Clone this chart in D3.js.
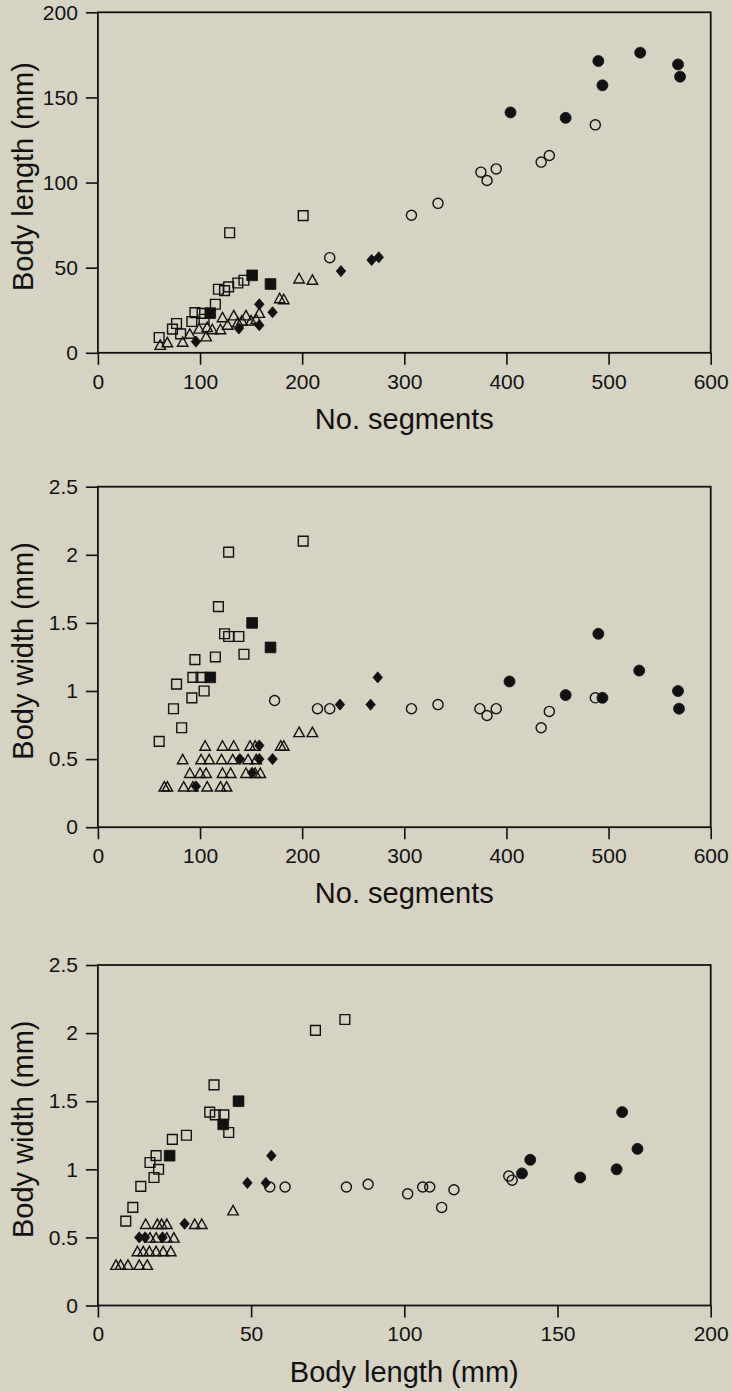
<!DOCTYPE html>
<html>
<head>
<meta charset="utf-8">
<script src="https://cdn.jsdelivr.net/npm/d3@7"></script>
<style>
  body { margin: 0; background: #d6d3c3; }
  svg { display: block; }
  text { font-family: "Liberation Sans", Arial, Helvetica, sans-serif; fill: #111; }
</style>
</head>
<body>
<div class="grafico"></div>
<script>
// ---- datos ----

// panel 1: No. segments vs Body length (mm)
const p1OpenSquare = [[60,9],[73,13.9],[77,17.2],[81,11.1],[92,18.4],[95,23.6],[102,23.2],[104,19.7],[115,28.5],[118,37.3],[124,36.5],[128,38.7],[129,70.5],[137,41],[143,42.6],[201,80.6]];
const p1FilledSquare = [[110,23.3],[151,45.5],[169,40.4]];
const p1Triangle = [[61,4.8],[68,6.3],[83,6.6],[90,11.3],[99,14.3],[106,9.8],[107,15.2],[112,14],[120,14],[122,21],[127,16.6],[133,22.1],[137,18],[141,19.1],[145,22.1],[150,19.1],[155,20],[158,23.6],[178,32.2],[182,31.6],[197,43.8],[210,43]];
const p1Diamond = [[96,6.6],[138,14.3],[158,16.2],[158,28.5],[171,23.8],[238,48],[268,54.5],[275,56.1]];
const p1OpenCircle = [[227,55.9],[307,80.8],[333,87.8],[375,106.1],[381,101.2],[390,108],[434,112],[442,115.9],[487,133.9]];
const p1FilledCircle = [[404,141.2],[458,138],[490,171.4],[494,157.1],[531,176.3],[568,169.4],[570,162.2]];

// panel 2: No. segments vs Body width (mm)
const p2OpenSquare = [[60,0.63],[74,0.87],[77,1.05],[82,0.73],[92,0.95],[93,1.1],[95,1.23],[101,1.1],[104,1.0],[115,1.25],[118,1.62],[124,1.42],[128,1.4],[128,2.02],[138,1.4],[143,1.27],[201,2.1]];
const p2FilledSquare = [[110,1.1],[151,1.5],[169,1.32]];
const p2Triangle = [[65,0.3],[68,0.3],[84,0.3],[93,0.3],[107,0.3],[120,0.3],[126,0.3],
  [90,0.4],[100,0.4],[106,0.4],[122,0.4],[130,0.4],[145,0.4],[154,0.4],[159,0.4],
  [83,0.5],[101,0.5],[109,0.5],[121,0.5],[132,0.5],[147,0.5],[155,0.5],
  [105,0.6],[122,0.6],[133,0.6],[149,0.6],[154,0.6],[179,0.6],[182,0.6],
  [197,0.7],[210,0.7]];
const p2Diamond = [[96,0.3],[139,0.5],[151,0.4],[158,0.6],[158,0.5],[171,0.5],[237,0.9],[267,0.9],[274,1.1]];
const p2OpenCircle = [[173,0.93],[215,0.87],[227,0.87],[307,0.87],[333,0.9],[374,0.87],[381,0.82],[390,0.87],[434,0.73],[442,0.85],[487,0.95]];
const p2FilledCircle = [[403,1.07],[458,0.97],[490,1.42],[494,0.95],[530,1.15],[568,1.0],[569,0.87]];

// panel 3: Body length (mm) vs Body width (mm)
const p3OpenSquare = [[9.1,0.62],[11.4,0.72],[14,0.875],[17,1.05],[18.3,0.94],[19,1.1],[19.8,1.0],[24.3,1.22],[28.9,1.25],[36.5,1.42],[37.9,1.62],[38.3,1.4],[41.1,1.4],[42.7,1.27],[71,2.02],[80.6,2.1]];
const p3FilledSquare = [[23.4,1.1],[40.9,1.33],[45.9,1.5]];
const p3Triangle = [[5.9,0.3],[7.4,0.3],[9.8,0.3],[13.5,0.3],[16.1,0.3],
  [12.9,0.4],[14.8,0.4],[16.8,0.4],[19,0.4],[21.3,0.4],[23.8,0.4],
  [17,0.5],[19,0.5],[22.5,0.5],[24.8,0.5],
  [15.6,0.6],[19.4,0.6],[20.8,0.6],[22.5,0.6],[31.6,0.6],[33.9,0.6],
  [44.1,0.7]];
const p3Diamond = [[13.5,0.5],[15.4,0.5],[21.1,0.5],[28.3,0.6],[48.8,0.9],[54.8,0.9],[56.6,1.1]];
const p3OpenCircle = [[56.1,0.87],[61.1,0.87],[81.1,0.87],[88.2,0.89],[101.1,0.82],[106,0.87],[108.3,0.87],[112.2,0.72],[116.2,0.85],[134.1,0.95],[135.2,0.92]];
const p3FilledCircle = [[138.4,0.97],[141.1,1.07],[157.4,0.94],[169.3,1.0],[171.1,1.42],[176.1,1.15]];

// ticks y titulos
const segTicks = [0, 100, 200, 300, 400, 500, 600];
const lengthTicks = [0, 50, 100, 150, 200];
const widthTicks = [0, 0.5, 1, 1.5, 2, 2.5];
const titles = ["No. segments", "Body length (mm)", "Body width (mm)"];

// ---- simbolos propios ----
var triangleType = {
  draw: function(ctx, size) {
    var w = Math.sqrt(size) / 2, h = w * 0.9;
    ctx.moveTo(0, -h); ctx.lineTo(w, h); ctx.lineTo(-w, h); ctx.closePath();
  }
};
var diamondType = {
  draw: function(ctx, size) {
    var h = Math.sqrt(size) / 2, w = h * 0.85;
    ctx.moveTo(0, -h); ctx.lineTo(w, 0); ctx.lineTo(0, h); ctx.lineTo(-w, 0); ctx.closePath();
  }
};
var squareType = {
  draw: function(ctx, size) {
    var s = Math.sqrt(size) / 2;
    ctx.rect(-s, -s, 2 * s, 2 * s);
  }
};

var width = 732, height = 1391;
var left = 97.9, right = 710.7, plotH = 340.5;

var svg = d3.select(".grafico")
  .append("svg")
  .attr("width", width)
  .attr("height", height);

svg.append("rect").attr("width", width).attr("height", height).attr("fill", "#d6d3c3");

var panels = [
  { top: 12.3, xMax: 600, yMax: 200, xTicks: segTicks, yTicks: lengthTicks, xTitle: titles[0], yTitle: titles[1],
    series: [p1OpenSquare, p1Triangle, p1OpenCircle, p1FilledSquare, p1Diamond, p1FilledCircle] },
  { top: 486.7, xMax: 600, yMax: 2.5, xTicks: segTicks, yTicks: widthTicks, xTitle: titles[0], yTitle: titles[2],
    series: [p2OpenSquare, p2Triangle, p2OpenCircle, p2FilledSquare, p2Diamond, p2FilledCircle] },
  { top: 965, xMax: 200, yMax: 2.5, xTicks: [0, 50, 100, 150, 200], yTicks: widthTicks, xTitle: titles[1], yTitle: titles[2],
    series: [p3OpenSquare, p3Triangle, p3OpenCircle, p3FilledSquare, p3Diamond, p3FilledCircle] }
];

// estilo de cada serie, mismo orden que "series"
var styles = [
  { type: squareType, size: 95, filled: false },
  { type: triangleType, size: 110, filled: false },
  { type: d3.symbolCircle, size: 80, filled: false },
  { type: squareType, size: 115, filled: true },
  { type: diamondType, size: 125, filled: true },
  { type: d3.symbolCircle, size: 95, filled: true }
];

panels.forEach(function(p) {
  var bottom = p.top + plotH;

  var xScale = d3.scaleLinear().domain([0, p.xMax]).range([left, right]);
  var yScale = d3.scaleLinear().domain([0, p.yMax]).range([bottom, p.top]);

  var g = svg.append("g");

  // Eje X
  var gx = g.append("g")
    .attr("transform", "translate(0," + bottom + ")")
    .call(d3.axisBottom(xScale).tickValues(p.xTicks).tickFormat(String).tickSize(12).tickPadding(9));

  // Eje Y
  var gy = g.append("g")
    .attr("transform", "translate(" + left + ",0)")
    .call(d3.axisLeft(yScale).tickValues(p.yTicks).tickFormat(String).tickSize(12).tickPadding(8));

  [gx, gy].forEach(function(a) {
    a.select(".domain").remove();
    a.selectAll(".tick line").attr("stroke", "#111").attr("stroke-width", 1.6);
    a.selectAll(".tick text").attr("font-size", 21).attr("fill", "#111")
      .style("font-family", "'Liberation Sans', Arial, sans-serif");
  });

  // marco
  g.append("rect")
    .attr("x", left).attr("y", p.top)
    .attr("width", right - left).attr("height", plotH)
    .attr("fill", "none").attr("stroke", "#111").attr("stroke-width", 1.8);

  // puntos
  p.series.forEach(function(data, i) {
    var st = styles[i];
    var sym = d3.symbol().type(st.type).size(st.size);
    g.append("g").selectAll("path")
      .data(data)
      .enter().append("path")
      .attr("transform", function(d) { return "translate(" + xScale(d[0]) + "," + yScale(d[1]) + ")"; })
      .attr("d", sym)
      .attr("fill", st.filled ? "#111" : "none")
      .attr("stroke", "#111")
      .attr("stroke-width", st.filled ? 0.8 : 1.4);
  });

  // titulos
  g.append("text")
    .attr("x", (left + right) / 2)
    .attr("y", bottom + 76)
    .attr("text-anchor", "middle")
    .attr("font-size", 29)
    .text(p.xTitle);

  g.append("text")
    .attr("transform", "translate(33," + (p.top + plotH / 2 - 6) + ") rotate(-90)")
    .attr("text-anchor", "middle")
    .attr("font-size", 29)
    .text(p.yTitle);
});
</script>
</body>
</html>
